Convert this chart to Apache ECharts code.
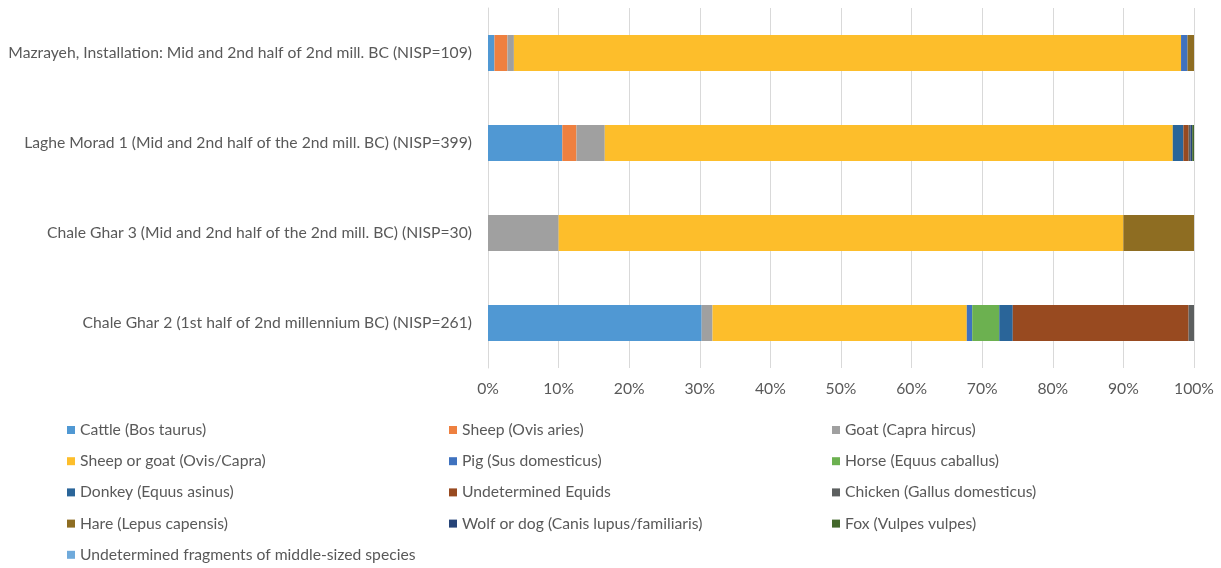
<!DOCTYPE html>
<html>
<head>
<meta charset="utf-8">
<title>Faunal composition by site</title>
<script src="https://cdn.jsdelivr.net/npm/echarts@6/dist/echarts.min.js"></script>
<style>
  html, body { margin: 0; padding: 0; background: #ffffff; }
  #chart { width: 1221px; height: 568px; }
</style>
</head>
<body>
<div id="chart"></div>
<script>
// Sites, bottom to top on the category axis
const sites = [
  'Chale Ghar 2 (1st half of 2nd millennium BC) (NISP=261)',
  'Chale Ghar 3 (Mid and 2nd half of the 2nd mill. BC) (NISP=30)',
  'Laghe Morad 1 (Mid and 2nd half of the 2nd mill. BC) (NISP=399)',
  'Mazrayeh, Installation: Mid and 2nd half of 2nd mill. BC (NISP=109)'
];

// Taxa in stacking / legend order
const taxa = [
  'Cattle (Bos taurus)',
  'Sheep (Ovis aries)',
  'Goat (Capra hircus)',
  'Sheep or goat (Ovis/Capra)',
  'Pig (Sus domesticus)',
  'Horse (Equus caballus)',
  'Donkey (Equus asinus)',
  'Undetermined Equids',
  'Chicken (Gallus domesticus)',
  'Hare (Lepus capensis)',
  'Wolf or dog (Canis lupus/familiaris)',
  'Fox (Vulpes vulpes)',
  'Undetermined fragments of middle-sized species'
];

const taxaColors = [
  '#5098D3', '#EE8040', '#A0A0A0', '#FDBE2B', '#3F72BF', '#6CB150',
  '#2A6599', '#984A20', '#5C5F5F', '#8E6D22', '#264478', '#43682B', '#6FAADB'
];

// Fragment counts (NISP) per taxon, one value per site in the order of `sites`
const cattle       = [79, 0, 42, 1];
const sheep        = [0, 0, 8, 2];
const goat         = [4, 3, 16, 1];
const sheepOrGoat  = [94, 24, 321, 103];
const pig          = [2, 0, 0, 1];
const horse        = [10, 0, 0, 0];
const donkey       = [5, 0, 6, 0];
const equids       = [65, 0, 3, 0];
const chicken      = [2, 0, 1, 0];
const hare         = [0, 3, 0, 1];
const wolfOrDog    = [0, 0, 1, 0];
const fox          = [0, 0, 1, 0];
const middleSized  = [0, 0, 0, 0];

const counts = [cattle, sheep, goat, sheepOrGoat, pig, horse, donkey, equids,
                chicken, hare, wolfOrDog, fox, middleSized];

const percentTicks = [0, 10, 20, 30, 40, 50, 60, 70, 80, 90, 100];

// Site totals for the 100% stacking
const totals = sites.map((_, i) => counts.reduce((s, arr) => s + arr[i], 0));

const FONT = 'Lato, "Open Sans", sans-serif';
const TEXT = '#595959';
const FS = 15.7;

const series = taxa.map((name, k) => ({
  name: name,
  type: 'bar',
  stack: 'share',
  barCategoryGap: '60%',
  itemStyle: { color: taxaColors[k] },
  emphasis: { disabled: true },
  data: counts[k].map((v, i) => v === 0 ? null : v / totals[i] * 100)
}));

// Legend split into three columns
const columns = [[0, 3, 6, 9, 12], [1, 4, 7, 10], [2, 5, 8, 11]];
const colLeft = [67, 449, 832];
const legends = columns.map((idx, c) => ({
  orient: 'vertical',
  left: colLeft[c],
  top: 421,
  padding: 0,
  height: 150,
  icon: 'rect',
  itemWidth: 8,
  itemHeight: 8,
  itemGap: 13.2,
  selectedMode: false,
  textStyle: { color: TEXT, fontSize: FS, fontFamily: FONT, lineHeight: 18 },
  data: idx.map(i => taxa[i])
}));

const chart = echarts.init(document.getElementById('chart'), null, { renderer: 'canvas' });
chart.setOption({
  animation: false,
  backgroundColor: '#ffffff',
  color: taxaColors,
  legend: legends,
  grid: { left: 488, right: 27, top: 8, height: 360, containLabel: false },
  xAxis: {
    type: 'value',
    min: percentTicks[0],
    max: percentTicks[percentTicks.length - 1],
    interval: 10,
    axisLine: { show: false },
    axisTick: { show: false },
    axisLabel: {
      color: TEXT, fontSize: FS, fontFamily: FONT, margin: 13,
      formatter: v => v + '%'
    },
    splitLine: { show: true, lineStyle: { color: '#d9d9d9', width: 1 } }
  },
  yAxis: {
    type: 'category',
    data: sites,
    axisLine: { show: true, lineStyle: { color: '#d9d9d9', width: 1 } },
    axisTick: { show: false },
    axisLabel: { color: TEXT, fontSize: FS, fontFamily: FONT, margin: 16 }
  },
  series: series
});
</script>
</body>
</html>
